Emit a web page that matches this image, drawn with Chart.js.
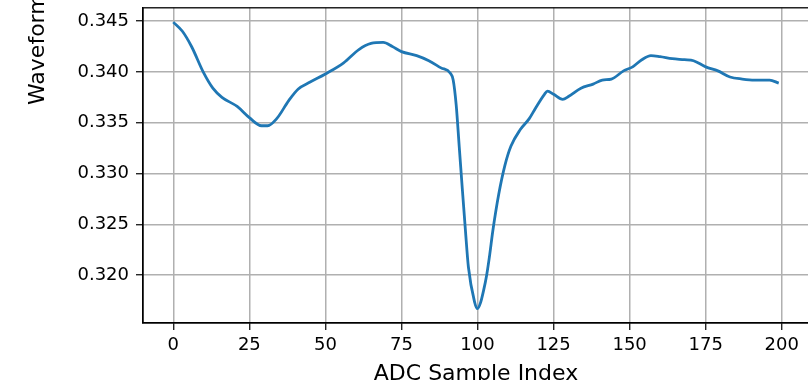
<!DOCTYPE html>
<html>
<head>
<meta charset="utf-8">
<script src="https://cdn.jsdelivr.net/npm/chart.js@4/dist/chart.umd.min.js"></script>
<style>
  html, body { margin: 0; padding: 0; background: #fff; overflow: hidden; }
  #wrap { position: absolute; left: 0; top: -10px; width: 812px; height: 402px; }
</style>
</head>
<body>
<div id="wrap"><canvas id="chart" width="812" height="402"></canvas></div>
<script>
// waveform, sample index -> amplitude
const sampleIdx = [0, 3, 6, 10, 13, 16, 21, 25, 29, 31, 34, 38, 41, 45, 50, 56, 61, 65, 69, 72,
  75, 80, 84, 88, 91, 92, 93, 94, 95, 96, 97, 99, 100, 101, 102, 103, 104, 105, 107, 109,
  111, 114, 117, 119, 122, 123, 125, 128, 130, 134, 138, 141, 144, 148, 151, 154, 157, 160,
  164, 168, 171, 175, 179, 183, 187, 191, 196, 199];
const waveform = [0.3449, 0.3440, 0.3425, 0.3399, 0.3384, 0.3375, 0.3366, 0.3355, 0.3347, 0.3347,
  0.3354, 0.3372, 0.3383, 0.3390, 0.3398, 0.3409, 0.3422, 0.3428, 0.3429, 0.3425,
  0.3420, 0.3416, 0.3411, 0.3404, 0.3399, 0.3392, 0.3367, 0.3326, 0.3285, 0.3245, 0.3208,
  0.3174, 0.3167, 0.3173, 0.3185, 0.3200, 0.3220, 0.3243, 0.3280, 0.3308,
  0.3327, 0.3343, 0.3354, 0.3364, 0.3378, 0.3381, 0.3378, 0.3373, 0.3376, 0.3384, 0.3388,
  0.3392, 0.3393, 0.3401, 0.3405, 0.3412, 0.3416, 0.3415,
  0.3413, 0.3412, 0.3411, 0.3405, 0.3401, 0.3395, 0.3393, 0.3392, 0.3392, 0.3389];

const xTickStep = 25, yTickStep = 0.005;
const xLabel = 'ADC Sample Index';
const yLabel = 'Waveform Amplitude';

const FONT = 'DejaVu Sans';
const LINE = '#1f77b4';
const GRID = '#b0b0b0';

// 5% margins like matplotlib autoscale
const xMin = Math.min(...sampleIdx), xMax = Math.max(...sampleIdx);
const yMin = Math.min(...waveform), yMax = Math.max(...waveform);
const xPad = (xMax - xMin) * 0.05, yPad = (yMax - yMin) * 0.05;

const frame = {
  id: 'frame',
  afterDraw(chart) {
    const { ctx, chartArea: a } = chart;
    ctx.save();
    ctx.strokeStyle = '#000';
    ctx.lineWidth = 1.3;
    ctx.strokeRect(a.left, a.top, a.right - a.left, a.bottom - a.top);
    // y label, rotated, starting low and running up past the top edge
    ctx.translate(44, 115);
    ctx.rotate(-Math.PI / 2);
    ctx.font = `22px "${FONT}"`;
    ctx.fillStyle = '#000';
    ctx.textAlign = 'left';
    ctx.textBaseline = 'alphabetic';
    ctx.fillText(yLabel, 0, 0);
    ctx.restore();
  },
};

new Chart(document.getElementById('chart'), {
  type: 'line',
  data: {
    datasets: [{
      data: sampleIdx.map((x, i) => ({ x, y: waveform[i] })),
      borderColor: LINE,
      borderWidth: 2.8,
      pointRadius: 0,
      cubicInterpolationMode: 'monotone',
      fill: false,
    }],
  },
  options: {
    responsive: false,
    animation: false,
    layout: { padding: { top: 7, right: 3, left: 0, bottom: 0 } },
    plugins: { legend: { display: false }, title: { display: false }, tooltip: { enabled: false } },
    scales: {
      x: {
        type: 'linear',
        min: xMin - xPad, max: xMax + xPad,
        afterFit: (s) => { s.height = 69; },
        ticks: {
          stepSize: xTickStep, includeBounds: false, padding: 5,
          color: '#000', font: { family: FONT, size: 18 },
          maxRotation: 0,
        },
        grid: { color: GRID, lineWidth: 1.5, tickLength: 7, tickColor: '#000', tickWidth: 1.2 },
        border: { color: '#000', width: 1.3 },
        title: {
          display: true, text: xLabel, color: '#000',
          font: { family: FONT, size: 22 }, padding: { top: 0, bottom: 5 },
        },
      },
      y: {
        min: yMin - yPad, max: yMax + yPad,
        afterFit: (s) => { s.width = 143; },
        ticks: {
          stepSize: yTickStep, includeBounds: false, padding: 7,
          color: '#000', font: { family: FONT, size: 18 },
          callback: (v) => v.toFixed(3),
        },
        grid: { color: GRID, lineWidth: 1.5, tickLength: 7, tickColor: '#000', tickWidth: 1.2 },
        border: { color: '#000', width: 1.3 },
      },
    },
  },
  plugins: [frame],
});
</script>
</body>
</html>
